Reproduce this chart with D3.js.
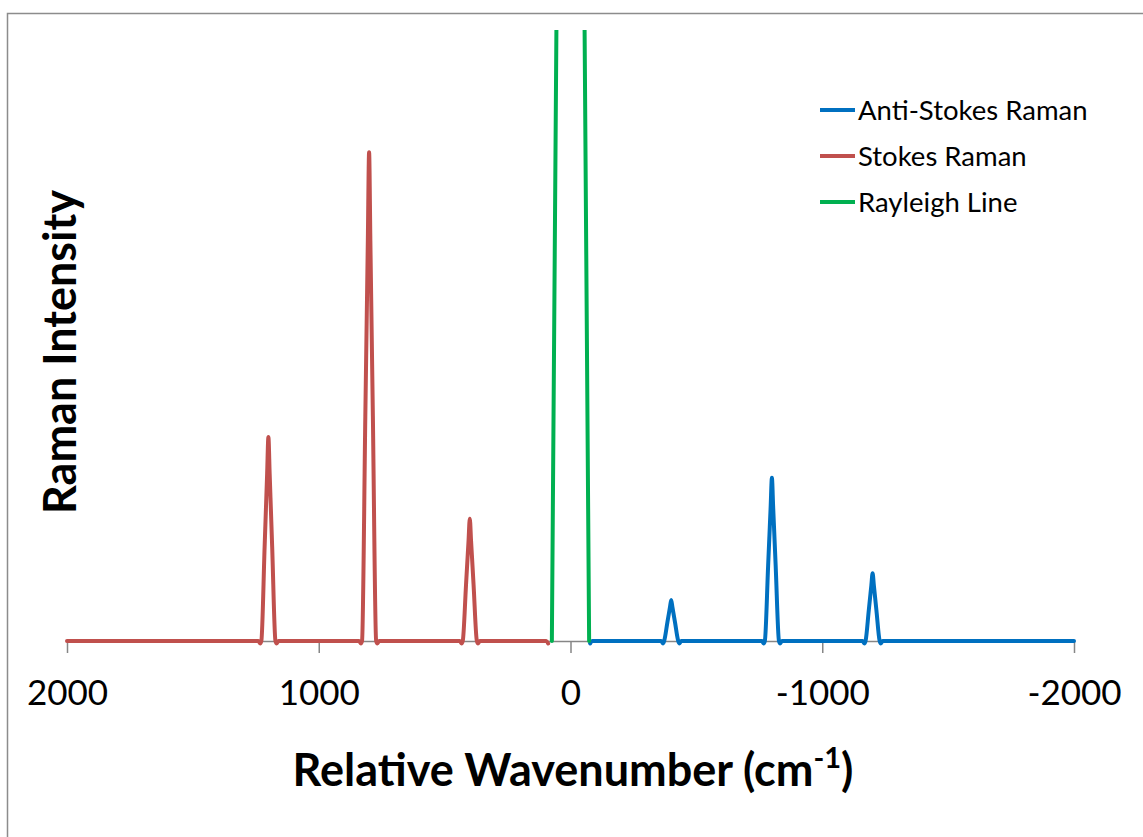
<!DOCTYPE html>
<html>
<head>
<meta charset="utf-8">
<script src="https://cdn.jsdelivr.net/npm/d3@7"></script>
<style>
  html, body { margin: 0; padding: 0; background: #ffffff; }
  svg { display: block; }
</style>
</head>
<body>
<svg id="chart" width="1143" height="837"></svg>
<script>
// ---- Data ----
const xTickValues = [2000, 1000, 0, -1000, -2000];
const seriesNames = ["Anti-Stokes Raman", "Stokes Raman", "Rayleigh Line"];
const seriesColors = ["#0070C0", "#C0504D", "#00B050"];

// Anti-Stokes Raman (blue)
const antiStokesX = [-78, -86, -360, -367, -372, -385, -395, -400, -405, -415, -428, -433, -440,
                     -760, -767, -772, -785, -795, -800, -805, -815, -828, -833, -840,
                     -1160, -1167, -1172, -1185, -1195, -1200, -1205, -1215, -1228, -1233, -1240, -2000];
const antiStokesY = [-0.4, 0, 0, -0.4, 0, 3.1, 5.5, 6.7, 5.5, 3.1, 0, -0.4, 0,
                     0, -0.4, 0, 12.3, 21.9, 26.7, 21.9, 12.3, 0, -0.4, 0,
                     0, -0.4, 0, 5.1, 9.1, 11.1, 9.1, 5.1, 0, -0.4, 0, 0];

// Stokes Raman (red)
const stokesX = [2000, 1240, 1233, 1228, 1215, 1205, 1200, 1195, 1185, 1172, 1167, 1160,
                 840, 833, 828, 815, 805, 800, 795, 785, 772, 767, 760,
                 440, 433, 428, 415, 405, 400, 395, 385, 372, 367, 360, 96, 89];
const stokesY = [0, 0, -0.4, 0, 15.4, 27.4, 33.4, 27.4, 15.4, 0, -0.4, 0,
                 0, -0.4, 0, 36.8, 65.6, 80, 65.6, 36.8, 0, -0.4, 0,
                 0, -0.4, 0, 9.2, 16.4, 20, 16.4, 9.2, 0, -0.4, 0, 0, -0.4];

// Rayleigh Line (green), far off-scale at the top
const rayleighX = [74, 0, -74];
const rayleighY = [0, 411, 0];

// ---- Layout ----
const svg = d3.select("#chart");
const W = 1143, H = 837;
const plot = { left: 67, right: 1074, top: 30, bottom: 641 };
const FONT = "Lato, 'Open Sans', sans-serif";

const x = d3.scaleLinear().domain([2000, -2000]).range([plot.left, plot.right]);
const y = d3.scaleLinear().domain([0, 100]).range([plot.bottom, plot.top]);

// Chart border (extends off the right/bottom edge like the reference)
svg.append("rect")
  .attr("x", 7.5).attr("y", 13.5)
  .attr("width", W + 20).attr("height", H + 20)
  .attr("fill", "#ffffff")
  .attr("stroke", "#8c8c8c").attr("stroke-width", 1.5);

// Clip path for plot area
svg.append("defs").append("clipPath").attr("id", "plotClip")
  .append("rect")
  .attr("x", plot.left - 10).attr("y", plot.top)
  .attr("width", plot.right - plot.left + 20)
  .attr("height", plot.bottom - plot.top + 40);

// X axis
const xAxis = d3.axisBottom(x)
  .tickValues(xTickValues)
  .tickSize(12)
  .tickSizeOuter(0)
  .tickFormat(d => String(d));

const gx = svg.append("g")
  .attr("transform", `translate(0,${plot.bottom})`)
  .call(xAxis);
gx.select(".domain").attr("stroke", "#868686").attr("stroke-width", 1.5);
gx.selectAll(".tick line").attr("stroke", "#868686").attr("stroke-width", 1.5);
gx.selectAll(".tick text")
  .attr("y", 64).attr("dy", 0)
  .attr("fill", "#000")
  .style("font-family", FONT)
  .style("font-size", "35px");

// Series
const lineGen = d3.line()
  .x(d => x(d[0]))
  .y(d => y(d[1]))
  .curve(d3.curveMonotoneX);

const seriesData = [
  d3.zip(antiStokesX, antiStokesY),
  d3.zip(stokesX, stokesY),
  d3.zip(rayleighX, rayleighY)
];

const gSeries = svg.append("g").attr("clip-path", "url(#plotClip)");
seriesData.forEach((pts, i) => {
  gSeries.append("path")
    .datum(pts)
    .attr("fill", "none")
    .attr("stroke", seriesColors[i])
    .attr("stroke-width", 4)
    .attr("stroke-linejoin", "round")
    .attr("stroke-linecap", "round")
    .attr("d", i === 2 ? d3.line().x(d => x(d[0])).y(d => y(d[1]))(pts) : lineGen(pts));
});

// Legend
const legend = svg.append("g");
seriesNames.forEach((name, i) => {
  const ly = 110 + i * 46;
  legend.append("line")
    .attr("x1", 820).attr("x2", 855)
    .attr("y1", ly).attr("y2", ly)
    .attr("stroke", seriesColors[i]).attr("stroke-width", 4);
  legend.append("text")
    .attr("x", 858).attr("y", ly + 10)
    .attr("fill", "#000")
    .style("font-family", FONT)
    .style("font-size", "27.5px")
    .text(name);
});

// X axis title
const xt = svg.append("text")
  .attr("x", 573).attr("y", 786)
  .attr("text-anchor", "middle")
  .attr("fill", "#000")
  .style("font-family", FONT)
  .style("font-weight", "bold")
  .style("font-size", "45px");
xt.append("tspan").text("Relative Wavenumber (cm");
xt.append("tspan").attr("dy", -18).style("font-size", "29px").text("-1");
xt.append("tspan").attr("dy", 18).text(")");

// Y axis title
svg.append("text")
  .attr("transform", "translate(76,352) rotate(-90)")
  .attr("text-anchor", "middle")
  .attr("fill", "#000")
  .style("font-family", FONT)
  .style("font-weight", "bold")
  .style("font-size", "45px")
  .text("Raman Intensity");
</script>
</body>
</html>
